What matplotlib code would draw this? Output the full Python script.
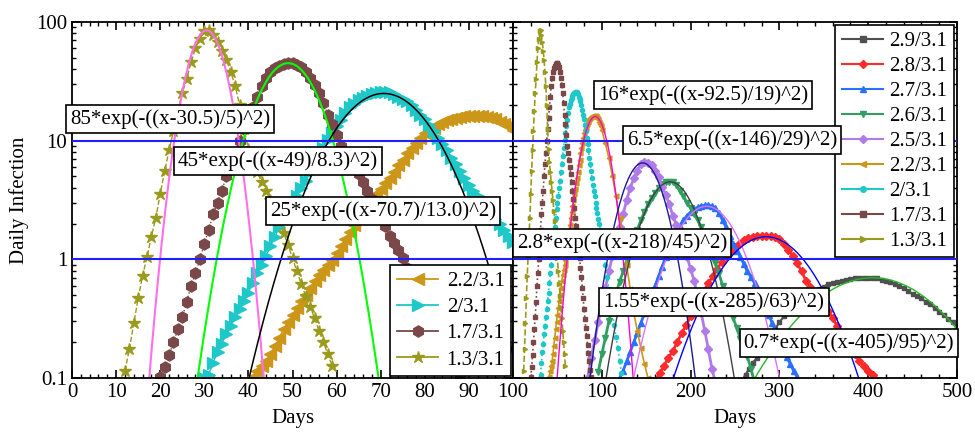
import numpy as np
import matplotlib
matplotlib.use("Agg")
import matplotlib.pyplot as plt
from matplotlib.lines import Line2D

plt.rcParams['font.family'] = ['Liberation Serif', 'DejaVu Serif']
plt.rcParams['font.size'] = 15

# ---- simulated daily infection ----
days_13 = list(range(12, 60))
inf_13 = [0.115, 0.174, 0.288, 0.468, 0.724, 1.05, 1.55, 2.24, 3.55, 5.5,
          8.3, 12.0, 17.8, 25.1, 33.1, 45.7, 60.3, 72.4, 83.2, 85.1,
          77.6, 67.6, 57.5, 47.9, 38.0, 28.8, 20.0, 12.6, 8.5, 6.6,
          5.4, 4.5, 3.8, 3.16, 2.57, 2.09, 1.66, 1.32, 1.02, 0.79,
          0.62, 0.49, 0.40, 0.32, 0.25, 0.20, 0.16, 0.126]

days_17 = list(range(20, 89))
inf_17 = [0.102, 0.123, 0.155, 0.20, 0.257, 0.324, 0.437, 0.60, 0.76, 1.0,
          1.35, 1.78, 2.4, 3.0, 3.8, 5.0, 6.3, 7.9, 10.0, 12.6,
          15.5, 19.1, 23.4, 28.8, 33.9, 38.0, 40.7, 42.7, 44.2, 44.7,
          44.7, 43.7, 41.7, 38.0, 33.9, 29.5, 25.1, 20.9, 16.6, 13.8,
          11.2, 9.1, 7.9, 6.9, 6.0, 5.2, 4.5, 3.8, 3.2, 2.7,
          2.24, 1.9, 1.58, 1.38, 1.2, 1.02, 0.85, 0.71, 0.575, 0.468,
          0.38, 0.316, 0.263, 0.224, 0.19, 0.162, 0.138, 0.117, 0.102]

days_20 = list(range(30, 101)) + [102, 104, 106, 108, 110, 112, 114, 116, 118, 120, 122]
inf_20 = [0.1, 0.107, 0.135, 0.166, 0.195, 0.234, 0.275, 0.324, 0.38, 0.447,
          0.525, 0.63, 0.76, 0.89, 1.07, 1.29, 1.55, 1.86, 2.24, 2.63,
          3.0, 3.4, 4.0, 4.6, 5.4, 6.3, 7.4, 8.7, 10.2, 11.7,
          13.2, 14.8, 17.0, 19.1, 20.4, 21.9, 22.9, 24.0, 24.5, 25.1,
          25.7, 25.7, 25.7, 24.5, 23.4, 22.4, 21.4, 20.0, 18.2, 16.6,
          15.1, 13.5, 12.0, 10.5, 9.3, 8.3, 7.2, 6.3, 5.5, 4.8,
          4.2, 3.8, 3.4, 3.0, 2.7, 2.45, 2.2, 2.0, 1.78, 1.58,
          1.41, 1.12, 0.89, 0.71, 0.56, 0.45, 0.35, 0.28, 0.22, 0.18,
          0.14, 0.11]

days_22 = list(range(41, 101)) + [104, 108, 112, 116, 120, 124, 128, 132, 136, 140, 144, 148, 152]
inf_22 = [0.102, 0.115, 0.126, 0.138, 0.158, 0.186, 0.219, 0.257, 0.295, 0.339,
          0.389, 0.447, 0.50, 0.575, 0.66, 0.74, 0.81, 0.89, 0.98, 1.12,
          1.29, 1.48, 1.7, 1.95, 2.24, 2.5, 2.8, 3.16, 3.55, 3.9,
          4.4, 4.8, 5.4, 6.2, 6.9, 7.8, 8.7, 9.5, 10.5, 11.5,
          12.3, 12.9, 13.8, 14.5, 14.8, 15.1, 15.5, 15.8, 16.2, 16.2,
          16.2, 16.2, 16.2, 15.8, 15.5, 15.1, 14.5, 13.8, 13.2, 12.3,
          9.5, 7.1, 5.0, 3.4, 2.24, 1.41, 0.89, 0.56, 0.355, 0.25,
          0.178, 0.132, 0.1]

days_25 = list(range(84, 229, 4))
inf_25 = [0.1, 0.148, 0.209, 0.295, 0.417, 0.575, 0.79, 1.07, 1.45, 1.86,
          2.4, 3.16, 4.0, 4.8, 5.6, 6.3, 6.6, 6.5, 6.2, 5.6,
          4.9, 4.1, 3.5, 2.9, 2.34, 1.95, 1.66, 1.32, 1.05, 0.83,
          0.66, 0.48, 0.35, 0.25, 0.174, 0.12, 0.091]

days_26 = list(range(96, 273, 4))
inf_26 = [0.112, 0.158, 0.219, 0.30, 0.40, 0.51, 0.65, 0.79, 0.98, 1.2,
          1.48, 1.78, 2.14, 2.5, 2.9, 3.3, 3.6, 4.0, 4.3, 4.5,
          4.5, 4.5, 4.2, 3.8, 3.4, 3.0, 2.7, 2.4, 2.14, 1.86,
          1.62, 1.38, 1.15, 0.93, 0.76, 0.60, 0.49, 0.40, 0.32, 0.263,
          0.214, 0.178, 0.151, 0.12, 0.091]

days_27 = list(range(120, 325, 4))
inf_27 = [0.1, 0.115, 0.138, 0.166, 0.2, 0.24, 0.29, 0.35, 0.42, 0.5,
          0.6, 0.72, 0.87, 1.05, 1.23, 1.45, 1.66, 1.9, 2.14, 2.34,
          2.5, 2.63, 2.75, 2.82, 2.85, 2.85, 2.82, 2.7, 2.45, 2.14,
          1.86, 1.58, 1.35, 1.17, 1.05, 0.91, 0.79, 0.71, 0.63, 0.56,
          0.49, 0.41, 0.34, 0.29, 0.245, 0.204, 0.178, 0.151, 0.132, 0.115,
          0.102, 0.091]

days_28 = list(range(160, 411, 5))
inf_28 = [0.095, 0.11, 0.126, 0.148, 0.17, 0.2, 0.24, 0.28, 0.33, 0.39,
          0.46, 0.54, 0.63, 0.72, 0.83, 0.95, 1.07, 1.17, 1.26, 1.35,
          1.45, 1.51, 1.55, 1.58, 1.58, 1.58, 1.58, 1.55, 1.48, 1.35,
          1.2, 1.07, 0.93, 0.79, 0.66, 0.59, 0.52, 0.47, 0.43, 0.37,
          0.32, 0.275, 0.24, 0.21, 0.18, 0.158, 0.138, 0.126, 0.115, 0.105,
          0.095]

days_29 = [258, 262, 266, 270] + list(range(275, 501, 5))
inf_29 = [0.095, 0.107, 0.12, 0.135, 0.148, 0.166, 0.19, 0.22, 0.257, 0.295,
          0.33, 0.363, 0.40, 0.427, 0.457, 0.49, 0.51, 0.537, 0.56, 0.59,
          0.617, 0.63, 0.645, 0.66, 0.676, 0.684, 0.69, 0.69, 0.70, 0.70,
          0.70, 0.69, 0.676, 0.66, 0.645, 0.617, 0.60, 0.575, 0.537, 0.51,
          0.49, 0.468, 0.437, 0.417, 0.389, 0.363, 0.339, 0.316, 0.295, 0.275]

# ---- gaussian fits shown in the chart: A*exp(-((x-c)/w)^2) ----
fit_amp_left = [85, 45, 25.0]
fit_ctr_left = [30.5, 49, 70.7]
fit_wid_left = [5, 8.3, 13.0]
fit_col_left = ['#ff70e8', '#00ff00', 'black']

fit_amp_right = [16, 6.5, 4.5, 2.8, 1.55, 0.7]
fit_ctr_right = [92.5, 146, 177, 218, 285, 405]
fit_wid_right = [19, 29, 37, 45, 63, 95]
fit_col_right = ['#ff00d0', '#1a1a90', '#404040', '#e070ff', '#0000ff', '#22bb22']

c_olive = '#9a9a1c'
c_brown = '#7a4848'
c_cyan = '#1ec8c8'
c_gold = '#cc9618'

fig = plt.figure(figsize=(9.75, 4.37), dpi=100)
ax1 = fig.add_axes([72/975, 1 - 378/437, 441/975, 356/437])
ax2 = fig.add_axes([513/975, 1 - 378/437, 444/975, 356/437])

# left panel
ax1.plot(days_22, inf_22, color=c_gold, marker='<', ms=9, lw=1)
ax1.plot(days_20, inf_20, color=c_cyan, marker='>', ms=8, lw=1)
ax1.plot(days_17, inf_17, color=c_brown, marker='h', ms=8, lw=1, ls=':')
ax1.plot(days_13, inf_13, color=c_olive, marker='*', ms=9, lw=1, ls='--')
xx = np.linspace(0, 100, 1500)
for a, c, w, col in zip(fit_amp_left, fit_ctr_left, fit_wid_left, fit_col_left):
    ax1.plot(xx, a*np.exp(-((xx-c)/w)**2), color=col, lw=1.5 if col != 'black' else 1.1)

# right panel
ax2.plot(days_29, inf_29, color='#505050', marker='s', ms=3.5, lw=1.5)
ax2.plot(days_28, inf_28, color='#ff2a2a', marker='D', ms=4, lw=2)
ax2.plot(days_27, inf_27, color='#2a70ff', marker='^', ms=4.5, lw=2)
ax2.plot(days_26, inf_26, color='#30a060', marker='v', ms=4.5, lw=2)
ax2.plot(days_25, inf_25, color='#b07ae8', marker='D', ms=4, lw=2)
ax2.plot(days_22, inf_22, color=c_gold, marker='<', ms=3.5, lw=1.2)
ax2.plot(days_20, inf_20, color=c_cyan, marker='o', ms=3, lw=1.2, ls=':')
ax2.plot(days_17, inf_17, color=c_brown, marker='s', ms=3, lw=1.2, ls=':')
ax2.plot(days_13, inf_13, color=c_olive, marker='>', ms=3, lw=1.2, ls='--')
xr = np.linspace(0, 500, 3000)
for a, c, w, col in zip(fit_amp_right, fit_ctr_right, fit_wid_right, fit_col_right):
    ax2.plot(xr, a*np.exp(-((xr-c)/w)**2), color=col, lw=1.0)

for ax in (ax1, ax2):
    ax.set_yscale('log')
    ax.set_ylim(0.1, 100)
    ax.axhline(10, color='#2020ff', lw=1.5, zorder=5)
    ax.axhline(1, color='#2020ff', lw=1.5, zorder=5)
    ax.tick_params(which='both', direction='in', top=True, right=True, labelsize=15)
    ax.tick_params(which='major', length=6, width=1.2)
    ax.tick_params(which='minor', length=3, width=1)
    for s in ax.spines.values():
        s.set_linewidth(1.3)
    ax.set_xlabel('Days', fontsize=15, labelpad=5)

ax1.set_xlim(0, 100)
ax1.set_xticks(range(0, 101, 10))
ax1.set_xticks(range(0, 101, 2), minor=True)
ax1.set_yticks([0.1, 1, 10, 100])
ax1.set_yticklabels(['0.1', '1', '10', '100'])
ax1.set_ylabel('Daily Infection', fontsize=15, labelpad=5)

ax2.set_xlim(0, 500)
ax2.set_xticks(range(0, 501, 100))
# the "0" of the right panel sits under the "100" of the left one
ax2.set_xticklabels(['', '100', '200', '300', '400', '500'])
ax2.set_xticks(range(0, 501, 20), minor=True)
ax2.set_yticks([0.1, 1, 10, 100])
ax2.set_yticklabels([])
ax2.tick_params(which='minor', labelleft=False)

left_names = ['2.2/3.1', '2/3.1', '1.7/3.1', '1.3/3.1']
left_style = [(c_gold, '<', 9), (c_cyan, '>', 8), (c_brown, 'h', 8), (c_olive, '*', 9)]
h1 = [Line2D([], [], color=c, marker=m, ms=s, lw=1.3) for c, m, s in left_style]
leg1 = ax1.legend(h1, left_names, loc='lower right', fontsize=15, frameon=True,
                  fancybox=False, edgecolor='black', framealpha=1, borderaxespad=0.1,
                  handlelength=2.0, labelspacing=0.32, borderpad=0.3,
                  handletextpad=0.4, numpoints=1)
leg1.get_frame().set_linewidth(1.2)
leg1.set_zorder(20)

right_names = ['2.9/3.1', '2.8/3.1', '2.7/3.1', '2.6/3.1', '2.5/3.1',
               '2.2/3.1', '2/3.1', '1.7/3.1', '1.3/3.1']
right_style = [('#505050', 's'), ('#ff2a2a', 'D'), ('#2a70ff', '^'), ('#30a060', 'v'),
               ('#b07ae8', 'D'), (c_gold, '<'), (c_cyan, 'o'), (c_brown, 's'), (c_olive, '>')]
h2 = [Line2D([], [], color=c, marker=m, ms=4, lw=1.5) for c, m in right_style]
leg2 = ax2.legend(h2, right_names, loc='upper right', fontsize=15, frameon=True,
                  fancybox=False, edgecolor='black', framealpha=1, borderaxespad=0.15,
                  handlelength=2.0, labelspacing=0.26, borderpad=0.3,
                  handletextpad=0.3, numpoints=1)
leg2.get_frame().set_linewidth(1.2)
leg2.set_zorder(20)

# fit labels (box centres in pixels of the 975x437 picture)
fit_labels = ['85*exp(-((x-30.5)/5)^2)', '45*exp(-((x-49)/8.3)^2)',
              '25*exp(-((x-70.7)/13.0)^2)', '16*exp(-((x-92.5)/19)^2)',
              '6.5*exp(-((x-146)/29)^2)', '2.8*exp(-((x-218)/45)^2)',
              '1.55*exp(-((x-285)/63)^2)', '0.7*exp(-((x-405)/95)^2)']
label_px = [(170, 119), (278, 161), (383, 211), (703, 95),
            (732, 140), (622, 243), (714, 302), (849, 343)]
for s, (px, py) in zip(fit_labels, label_px):
    fig.text(px/975, 1 - py/437, s, ha='center', va='center', fontsize=15,
             bbox=dict(boxstyle='square,pad=0.2', fc='white', ec='black', lw=1.2),
             zorder=30)

fig.savefig('out.png', dpi=100)
